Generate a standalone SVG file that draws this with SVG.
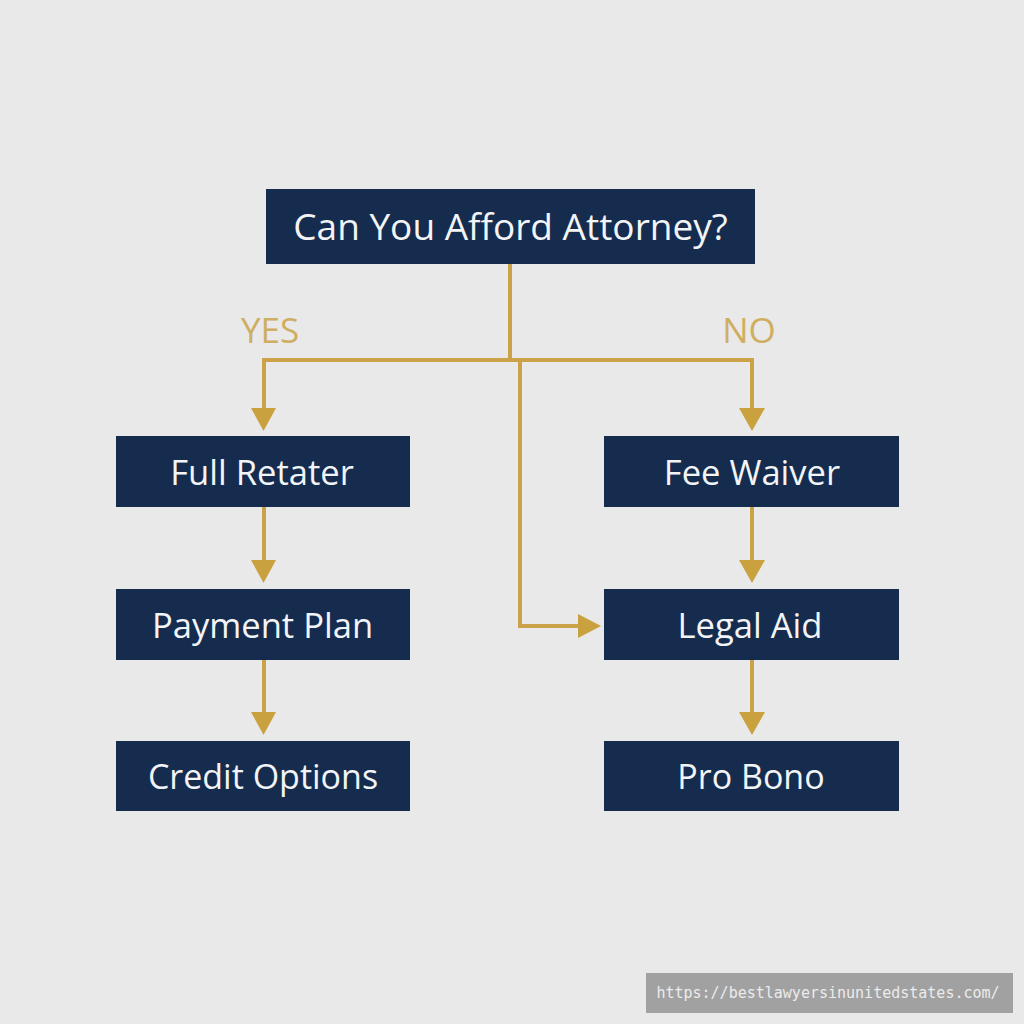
<svg xmlns="http://www.w3.org/2000/svg" width="1024" height="1024" viewBox="0 0 1024 1024">
<style>
.n{fill:#152c4f}
.t{font-family:"Open Sans","Noto Sans",sans-serif;font-size:34.6px;fill:#f2f4f6;text-anchor:middle}
.s{font-size:34px}
.l{font-family:"Open Sans","Noto Sans",sans-serif;font-size:35px;fill:#cfae62;text-anchor:middle}
.c{fill:none;stroke:#cba24a;stroke-width:4}
.a{fill:#c9a23f}
</style>
<rect width="1024" height="1024" fill="#e9e9e9"/>
<g id="connectors">
<path class="c" d="M510 264V360M264 410V360H752V410M264 507V562M264 660V714M752 507V562M752 660V714M520 360V626H582"/>
<polygon class="a" points="251,408 276,408 263.500,431"/>
<polygon class="a" points="739,408 765,408 752,431"/>
<polygon class="a" points="251,560 276,560 263.500,583"/>
<polygon class="a" points="251,712 276,712 263.500,735"/>
<polygon class="a" points="739,560 765,560 752,583"/>
<polygon class="a" points="739,712 765,712 752,735"/>
<polygon class="a" points="578,614 578,638 601,626"/>
</g>
<g id="label-yes"><text class="l" x="270" y="343">YES</text></g>
<g id="label-no"><text class="l" x="749" y="343">NO</text></g>
<g id="node-root"><rect class="n" x="266" y="189" width="489" height="75"/><text class="t" x="510.500" y="240" style="font-size:37px">Can You Afford Attorney?</text></g>
<g id="node-full-retater"><rect class="n" x="116" y="436" width="294" height="71"/><text class="t" x="262" y="484.500">Full Retater</text></g>
<g id="node-payment-plan"><rect class="n" x="116" y="589" width="294" height="71"/><text class="t" x="262.500" y="637.500">Payment Plan</text></g>
<g id="node-credit-options"><rect class="n" x="116" y="741" width="294" height="70"/><text class="t s" x="263" y="788.500">Credit Options</text></g>
<g id="node-fee-waiver"><rect class="n" x="604" y="436" width="295" height="71"/><text class="t" x="752" y="484.500">Fee Waiver</text></g>
<g id="node-legal-aid"><rect class="n" x="604" y="589" width="295" height="71"/><text class="t" x="750" y="637.500">Legal Aid</text></g>
<g id="node-pro-bono"><rect class="n" x="604" y="741" width="295" height="70"/><text class="t s" x="751" y="788.500">Pro Bono</text></g>
<g id="watermark"><rect x="646" y="973" width="367" height="40" fill="#a1a1a1"/><text x="828" y="998" font-family="'DejaVu Sans Mono','Liberation Mono',monospace" font-size="15" fill="#ececec" text-anchor="middle">https://bestlawyersinunitedstates.com/</text></g>
</svg>
